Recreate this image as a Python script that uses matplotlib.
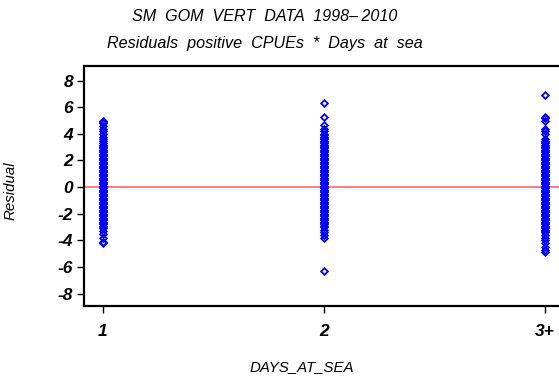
import matplotlib.pyplot as plt

plt.rcParams['font.family'] = ['Liberation Sans', 'DejaVu Sans']
plt.rcParams['axes.unicode_minus'] = False

# residuals, one list per DAYS_AT_SEA class
days = ['1', '2', '3+']
res_1 = [5.0, 4.9, 4.8, 4.6, 4.4, 4.2, 4.0, 3.8, 3.6, 3.5,
         3.3, 3.2, 3.1, 3.0, 2.9, 2.8, 2.7, 2.6, 2.5, 2.4, 2.3, 2.2,
         2.1, 2.0, 1.9, 1.8, 1.7, 1.6, 1.5, 1.4, 1.3, 1.2, 1.1, 1.0,
         0.9, 0.8, 0.7, 0.6, 0.5, 0.4, 0.3, 0.2, 0.1, 0.0, -0.1, -0.2,
         -0.3, -0.4, -0.5, -0.6, -0.7, -0.8, -0.9, -1.0, -1.1, -1.2,
         -1.3, -1.4, -1.5, -1.6, -1.7, -1.8, -1.9, -2.0, -2.1, -2.2,
         -2.3, -2.4, -2.5, -2.6, -2.7, -2.8, -2.9, -3.0, -3.1,
         -3.3, -3.5, -3.8, -4.1, -4.2]
res_2 = [6.3, 5.3, 4.7, 4.4, 4.2, 4.0, 3.9,
         3.8, 3.7, 3.6, 3.5, 3.4, 3.3, 3.2, 3.1, 3.0, 2.9, 2.8, 2.7,
         2.6, 2.5, 2.4, 2.3, 2.2, 2.1, 2.0, 1.9, 1.8, 1.7, 1.6, 1.5,
         1.4, 1.3, 1.2, 1.1, 1.0, 0.9, 0.8, 0.7, 0.6, 0.5, 0.4, 0.3,
         0.2, 0.1, 0.0, -0.1, -0.2, -0.3, -0.4, -0.5, -0.6, -0.7, -0.8,
         -0.9, -1.0, -1.1, -1.2, -1.3, -1.4, -1.5, -1.6, -1.7, -1.8,
         -1.9, -2.0, -2.1, -2.2, -2.3, -2.4, -2.5, -2.6, -2.7, -2.8,
         -2.9, -3.0, -3.2, -3.4, -3.6, -3.8, -6.3]
res_3 = [6.9, 5.3, 5.2, 5.0, 4.4, 4.2, 4.0,
         3.6, 3.5, 3.4, 3.3, 3.2, 3.1, 3.0, 2.9, 2.8, 2.7, 2.6, 2.5,
         2.4, 2.3, 2.2, 2.1, 2.0, 1.9, 1.8, 1.7, 1.6, 1.5, 1.4, 1.3,
         1.2, 1.1, 1.0, 0.9, 0.8, 0.7, 0.6, 0.5, 0.4, 0.3, 0.2, 0.1,
         0.0, -0.1, -0.2, -0.3, -0.4, -0.5, -0.6, -0.7, -0.8, -0.9,
         -1.0, -1.1, -1.2, -1.3, -1.4, -1.5, -1.6, -1.7, -1.8, -1.9,
         -2.0, -2.1, -2.2, -2.3, -2.4, -2.5, -2.6, -2.7, -2.8, -2.9,
         -3.0, -3.1, -3.2, -3.3, -3.4, -3.6, -3.8, -4.0, -4.2, -4.5,
         -4.7, -4.9]
y_ticks = [-8, -6, -4, -2, 0, 2, 4, 6, 8]

fig = plt.figure(figsize=(5.59, 3.81), dpi=100)
ax = fig.add_axes([0.1503, 0.197, 0.858, 0.630])

for i, r in enumerate([res_1, res_2, res_3]):
    ax.plot([i + 1] * len(r), r, linestyle='none', marker='D', ms=3.4,
            mfc='none', mec='#0000ff', mew=1.3)

ax.axhline(0, color='#ff5a5a', lw=1.1, zorder=0)

ax.set_xlim(0.914, 3.086)
ax.set_ylim(-8.92, 9.1)
ax.set_xticks([1, 2, 3])
ax.set_xticklabels(days)
ax.set_yticks(y_ticks)
for spine in ax.spines.values():
    spine.set_linewidth(1.6)
ax.tick_params(direction='out', length=5, width=1, labelsize=12.5, pad=3)
ax.tick_params(axis='x', pad=8)
for lab in ax.get_xticklabels() + ax.get_yticklabels():
    lab.set_fontweight('bold')
    lab.set_fontstyle('italic')

fig.text(0.018, 0.50, 'Residual', rotation=90, ha='center', va='center',
         fontsize=10.8, style='italic')
fig.text(0.54, 0.037, 'DAYS_AT_SEA', ha='center', va='center',
         fontsize=10.8, style='italic')
fig.text(0.474, 0.958, 'SM  GOM  VERT  DATA  1998\u2013\u20092010', ha='center',
         va='center', fontsize=11.6, style='italic')
fig.text(0.474, 0.887, 'Residuals  positive  CPUEs  *  Days  at  sea', ha='center',
         va='center', fontsize=11.6, style='italic')

fig.savefig('out.png', dpi=100)
